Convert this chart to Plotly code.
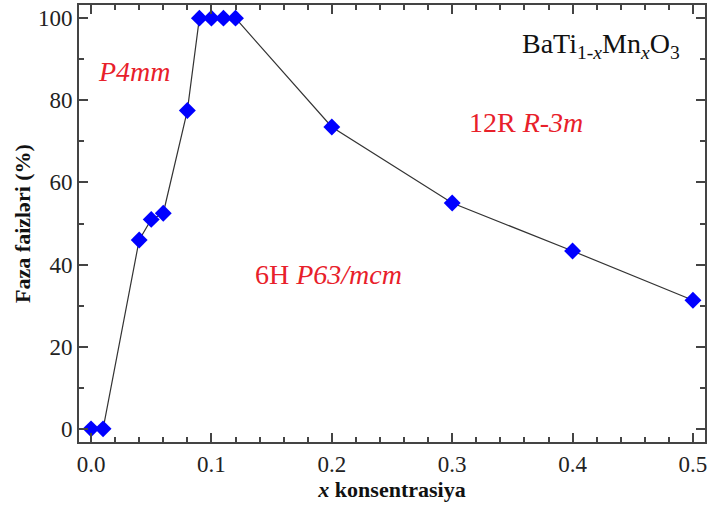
import plotly.graph_objects as go

x_conc = [0.0, 0.01, 0.04, 0.05, 0.06, 0.08, 0.09, 0.10, 0.11, 0.12, 0.2, 0.3, 0.4, 0.5]
phase_pct = [0, 0, 46, 51, 52.5, 77.5, 100, 100, 100, 100, 73.5, 55, 43.3, 31.3]

x_ticks = [0.0, 0.1, 0.2, 0.3, 0.4, 0.5]
x_ticklabels = ["0.0", "0.1", "0.2", "0.3", "0.4", "0.5"]
y_ticks = [0, 20, 40, 60, 80, 100]

FONT = "Liberation Serif"

fig = go.Figure()
fig.add_trace(go.Scatter(
    x=x_conc, y=phase_pct, mode="lines+markers",
    line=dict(color="#333333", width=1.2),
    marker=dict(symbol="diamond", size=13, color="#0000FF",
                line=dict(width=0)),
    showlegend=False,
))

axis_common = dict(
    showline=True, linecolor="#444444", linewidth=2, mirror="ticks",
    ticks="inside", ticklen=9, tickwidth=1.5, tickcolor="#444444",
    showgrid=False, zeroline=False,
    tickfont=dict(family=FONT, size=23, color="#222222"),
)

fig.update_xaxes(
    range=[-0.01, 0.51], tickvals=x_ticks, ticktext=x_ticklabels,
    minor=dict(dtick=0.02, tick0=0, ticks="inside", ticklen=5, tickwidth=1.5, tickcolor="#444444"),
    title=dict(text="<b><i>x</i> konsentrasiya</b>", font=dict(family=FONT, size=22, color="#111111"), standoff=5),
    **axis_common,
)
fig.update_yaxes(
    range=[-3.2, 103.2], tickvals=y_ticks,
    minor=dict(dtick=10, tick0=0, ticks="inside", ticklen=5, tickwidth=1.5, tickcolor="#444444"),
    title=dict(text="<b>Faza faizləri (%)</b>", font=dict(family=FONT, size=22, color="#111111"), standoff=1),
    **axis_common,
)

red = "#E8202A"
fig.add_annotation(x=0.0365, y=86.9, text="<i>P4mm</i>", showarrow=False,
                   font=dict(family=FONT, size=28, color=red))
fig.add_annotation(x=0.361, y=74.7, text="12R <i>R-3m</i>", showarrow=False,
                   font=dict(family=FONT, size=28, color=red))
fig.add_annotation(x=0.197, y=37.7, text="6H <i>P63/mcm</i>", showarrow=False,
                   font=dict(family=FONT, size=28, color=red))
fig.add_annotation(x=0.424, y=93.3, text="BaTi<sub>1-<i>x</i></sub>Mn<sub><i>x</i></sub>O<sub>3</sub>",
                   showarrow=False, font=dict(family=FONT, size=28, color="#111111"))

fig.update_layout(
    width=709, height=507,
    margin=dict(l=79, r=2, t=5, b=65),
    paper_bgcolor="white", plot_bgcolor="white",
    font=dict(family=FONT),
)

fig.write_html("out.html", config={"displayModeBar": False},
               post_script="document.body.style.margin='0';document.body.style.overflow='hidden';")
